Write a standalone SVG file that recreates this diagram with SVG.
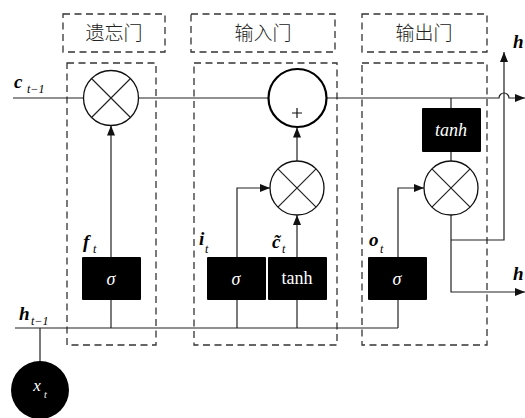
<svg xmlns="http://www.w3.org/2000/svg" width="525" height="418" viewBox="0 0 525 418">
  <defs>
    <marker id="arrow" viewBox="0 0 10 8" refX="10" refY="4" markerWidth="10" markerHeight="8" markerUnits="userSpaceOnUse" orient="auto">
      <path d="M0,0 L10,4 L0,8 Z" fill="#111"/>
    </marker>
  </defs>
  <style>
    .dash { fill: none; stroke: #333; stroke-width: 1.3; stroke-dasharray: 7 4.5; }
    .wire { fill: none; stroke: #222; stroke-width: 1.2; }
    .op { fill: #fff; stroke: #111; stroke-width: 1.3; }
    .add { fill: #fff; stroke: #000; stroke-width: 2.2; }
    .blk { fill: #000; stroke: none; }
    .title { font-family: "Noto Sans CJK SC", sans-serif; font-size: 19px; font-weight: 300; fill: #222; text-anchor: middle; }
    .lbl { font-family: "Liberation Serif", serif; font-style: italic; font-weight: bold; font-size: 19px; fill: #000; }
    .sub { font-family: "Liberation Serif", serif; font-style: italic; font-size: 12px; fill: #000; }
    .inw { font-family: "Liberation Serif", serif; font-size: 18px; fill: #fff; text-anchor: middle; }
  </style>

  <!-- gate frames -->
  <g id="forget-gate">
    <rect class="dash" x="63" y="14" width="102" height="38"/>
    <text class="title" x="114" y="40">遗忘门</text>
    <rect class="dash" x="67" y="63" width="89" height="282"/>
  </g>
  <g id="input-gate">
    <rect class="dash" x="191" y="14" width="144" height="38"/>
    <text class="title" x="263" y="40">输入门</text>
    <rect class="dash" x="194" y="63" width="143" height="282"/>
  </g>
  <g id="output-gate">
    <rect class="dash" x="362" y="14" width="125" height="38"/>
    <text class="title" x="424" y="40">输出门</text>
    <rect class="dash" x="362" y="63" width="125" height="282"/>
  </g>

  <!-- connectors -->
  <g id="connectors">
    <!-- cell state line -->
    <path class="wire" d="M13,98 H84"/>
    <path class="wire" d="M139,98 H268"/>
    <path class="wire" d="M327,98 H499 A5,5 0 0 1 509,98 H525" marker-end="url(#arrow)"/>
    <path class="wire" d="M451,98 V108"/>
    <!-- hidden state input line -->
    <path class="wire" d="M15,328 H398"/>
    <path class="wire" d="M40,328 V361"/>
    <!-- forget gate -->
    <path class="wire" d="M111,257 V125.5" marker-end="url(#arrow)"/>
    <path class="wire" d="M111,300 V328"/>
    <!-- input gate -->
    <path class="wire" d="M237,257 V188 H270" marker-end="url(#arrow)"/>
    <path class="wire" d="M297,257 V215" marker-end="url(#arrow)"/>
    <path class="wire" d="M297,161 V127.5" marker-end="url(#arrow)"/>
    <path class="wire" d="M237,300 V328"/>
    <path class="wire" d="M297,300 V328"/>
    <!-- output gate -->
    <path class="wire" d="M398,257 V188 H424" marker-end="url(#arrow)"/>
    <path class="wire" d="M451,152 V161"/>
    <path class="wire" d="M451,215 V292 H525" marker-end="url(#arrow)"/>
    <path class="wire" d="M451,240 H504 V52" marker-end="url(#arrow)"/>
    <path class="wire" d="M398,300 V328"/>
  </g>

  <!-- labels of the signals -->
  <g id="labels">
    <text class="lbl" x="14" y="88">c</text><text class="sub" x="27" y="93">t−1</text>
    <text class="lbl" x="19" y="320">h</text><text class="sub" x="31" y="325">t−1</text>
    <text class="lbl" x="83" y="248">f</text><text class="sub" x="93" y="253">t</text>
    <text class="lbl" x="199" y="245">i</text><text class="sub" x="205" y="253">t</text>
    <text class="lbl" x="272" y="248">c&#x303;</text><text class="sub" x="282" y="253">t</text>
    <text class="lbl" x="369" y="246">o</text><text class="sub" x="380" y="253">t</text>
    <text class="lbl" x="513" y="48">h</text>
    <text class="lbl" x="513" y="280">h</text>
  </g>

  <!-- operators -->
  <g id="mul-forget">
    <circle class="op" cx="111" cy="98" r="27.5"/>
    <path class="wire" d="M91.5,78.5 L130.5,117.5 M130.5,78.5 L91.5,117.5" stroke="#111"/>
  </g>
  <g id="add-cell">
    <circle class="add" cx="297.5" cy="98" r="29"/>
    <path d="M292,113 H302 M297,108 V118" stroke="#111" stroke-width="1.2"/>
  </g>
  <g id="mul-input">
    <circle class="op" cx="297" cy="188" r="27"/>
    <path class="wire" d="M277.9,168.9 L316.1,207.1 M316.1,168.9 L277.9,207.1" stroke="#111"/>
  </g>
  <g id="mul-output">
    <circle class="op" cx="451" cy="188" r="27"/>
    <path class="wire" d="M431.9,168.9 L470.1,207.1 M470.1,168.9 L431.9,207.1" stroke="#111"/>
  </g>

  <!-- activation blocks -->
  <g id="sigma-forget">
    <rect class="blk" x="82" y="257" width="59" height="43" rx="1"/>
    <text class="inw" x="111" y="285" font-style="italic">σ</text>
  </g>
  <g id="sigma-input">
    <rect class="blk" x="207" y="257" width="59" height="43" rx="1"/>
    <text class="inw" x="236" y="285" font-style="italic">σ</text>
  </g>
  <g id="tanh-input">
    <rect class="blk" x="268" y="257" width="59" height="43" rx="1"/>
    <text class="inw" x="297" y="284">tanh</text>
  </g>
  <g id="sigma-output">
    <rect class="blk" x="368" y="257" width="59" height="43" rx="1"/>
    <text class="inw" x="397" y="285" font-style="italic">σ</text>
  </g>
  <g id="tanh-output">
    <rect class="blk" x="422" y="108" width="59" height="44" rx="1"/>
    <text class="inw" x="451" y="136" font-style="italic">tanh</text>
  </g>

  <!-- input node -->
  <g id="input-x">
    <circle cx="40" cy="390" r="29" fill="#000"/>
    <text x="37" y="391" style="font-family:'Liberation Serif',serif;font-style:italic;font-size:17px;fill:#fff" text-anchor="middle">x</text>
    <text x="44" y="398" style="font-family:'Liberation Serif',serif;font-style:italic;font-size:10px;fill:#fff">t</text>
  </g>
</svg>
